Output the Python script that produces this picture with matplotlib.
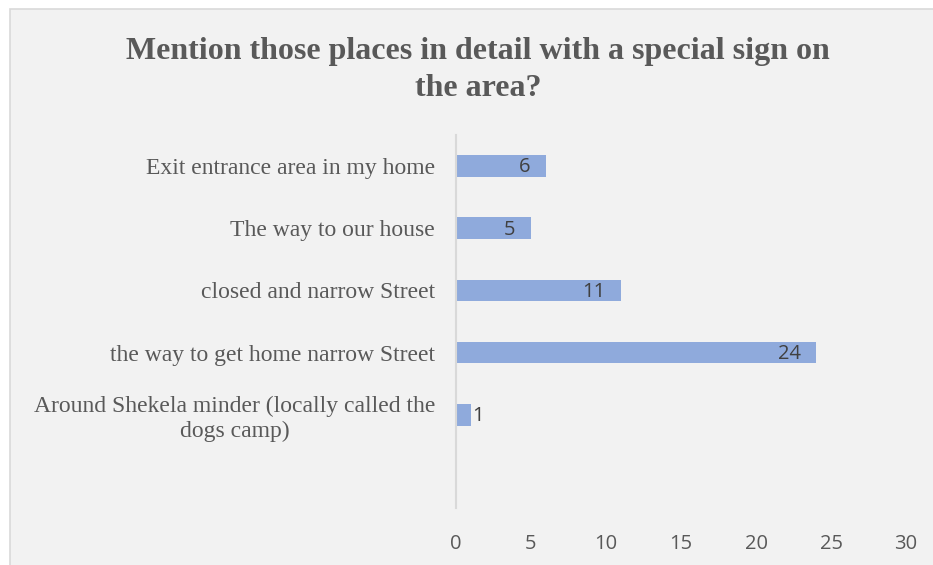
import matplotlib
matplotlib.use("Agg")
import matplotlib.pyplot as plt
from matplotlib.patches import Rectangle

title = "Mention those places in detail with a special sign on\nthe area?"
categories = [
    "",
    "Around Shekela minder (locally called the\ndogs camp)",
    "the way to get home narrow Street",
    "closed and narrow Street",
    "The way to our house",
    "Exit entrance area in my home",
]
values = [None, 1, 24, 11, 5, 6]
xticks = [0, 5, 10, 15, 20, 25, 30]

bar_color = "#8faadc"
panel_color = "#f2f2f2"
text_gray = "#595959"
label_dark = "#404040"
serif = ["Liberation Serif", "DejaVu Serif"]
sans = ["Open Sans", "DejaVu Sans"]

W, H = 933, 565
fig = plt.figure(figsize=(W / 100, H / 100), dpi=100, facecolor="white")

# Chart panel drawn on a background axes
bg = fig.add_axes([0, 0, 1, 1], zorder=0)
bg.set_axis_off()
bg.set_xlim(0, W)
bg.set_ylim(H, 0)
bg.add_patch(Rectangle((10, 9), W + 10, H + 10, facecolor=panel_color,
                       edgecolor="#d9d9d9", linewidth=1.2))

ax = fig.add_axes([456 / W, 1 - 508 / H, 450 / W, 373 / H], zorder=1)
ax.set_facecolor("none")

positions = list(range(len(categories)))
for y, v in zip(positions, values):
    if v is None:
        continue
    ax.barh(y, v, height=0.35, color=bar_color, zorder=2)
    if v >= 3:
        ax.annotate(str(v), (v, y), xytext=(-11, -1), textcoords="offset points",
                    ha="right", va="center", fontsize=14.5, color=label_dark,
                    family=sans)
    else:
        ax.annotate(str(v), (v, y), xytext=(1, -1), textcoords="offset points",
                    ha="left", va="center", fontsize=14.5, color=label_dark,
                    family=sans)

ax.set_xlim(0, 30)
ax.set_ylim(-0.5, len(categories) - 0.5)
ax.set_xticks(xticks)
ax.set_xticklabels([str(t) for t in xticks], fontsize=14.5, color=text_gray,
                   family=sans)
ax.set_yticks(positions)
ax.set_yticklabels(categories, fontsize=17, color=text_gray, family=serif,
                   multialignment="center")
ax.tick_params(axis="both", length=0)
ax.tick_params(axis="y", pad=15)
ax.tick_params(axis="x", pad=19)

for s in ["top", "right", "bottom"]:
    ax.spines[s].set_visible(False)
ax.spines["left"].set_color("#d9d9d9")
ax.spines["left"].set_linewidth(1.5)

bg.text(478, 70, title, ha="center", va="center",
        fontsize=23, fontweight="bold", color=text_gray, family=serif,
        linespacing=1.32)

fig.savefig("out.png", dpi=100, facecolor="white")
